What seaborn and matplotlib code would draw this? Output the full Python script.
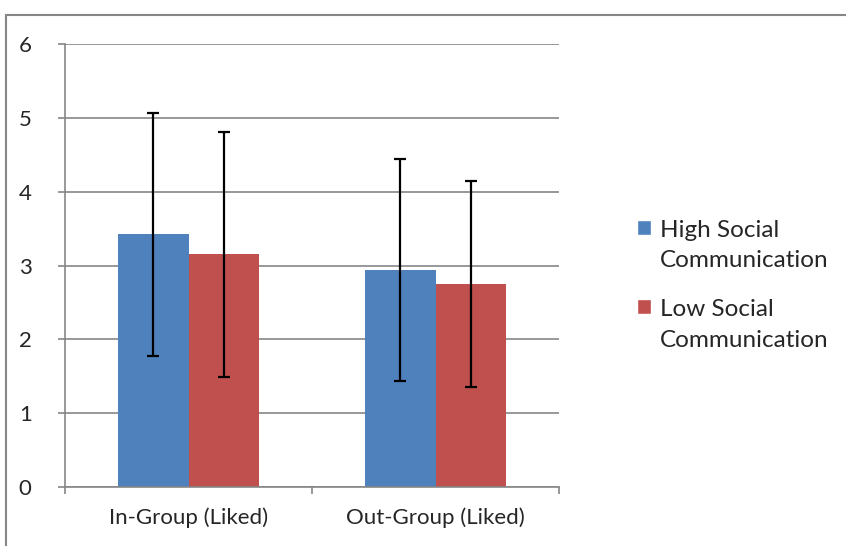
import pandas as pd
import seaborn as sns
import matplotlib.pyplot as plt
from matplotlib.patches import Rectangle, Patch
from matplotlib.legend_handler import HandlerPatch

categories = ['In-Group (Liked)', 'Out-Group (Liked)']
groups = ['High Social\nCommunication', 'Low Social\nCommunication']
high_means = [3.42, 2.94]
low_means = [3.15, 2.75]
high_err = [1.64, 1.50]
low_err = [1.66, 1.39]
colors = ['#4F81BD', '#C0504D']

df = pd.DataFrame({
    'category': categories * 2,
    'group': [groups[0]] * 2 + [groups[1]] * 2,
    'mean': high_means + low_means,
    'err': high_err + low_err,
})

sns.set_style('white')
plt.rcParams['font.family'] = ['Lato', 'DejaVu Sans']

fig = plt.figure(figsize=(8.46, 5.46), dpi=100)
ax = fig.add_axes([65 / 846, 59 / 546, 494 / 846, 443 / 546])

sns.barplot(data=df, x='category', y='mean', hue='group', palette=colors,
            width=0.57, gap=0, errorbar=None, ax=ax, legend=False,
            linewidth=0, saturation=1)

# error bars at the bar centres
for cont, errs in zip(ax.containers, [high_err, low_err]):
    xs = [b.get_x() + b.get_width() / 2 for b in cont]
    ys = [b.get_height() for b in cont]
    ax.errorbar(xs, ys, yerr=errs, fmt='none', ecolor='black',
                elinewidth=1.6, capsize=4, capthick=1.6, zorder=5)

ax.set_ylim(0, 6)
ax.set_xlim(-0.5, 1.5)
ax.set_yticks(range(7))
ax.set_xticks([-0.5, 0.5, 1.5], minor=False)
ax.set_xticklabels([])
ax.set_xticks([0, 1], minor=True)
ax.set_xticklabels(categories, minor=True)
ax.tick_params(axis='x', which='minor', length=0, pad=15, labelsize=16)
ax.tick_params(axis='x', which='major', length=5, width=1.2, color='#868686', direction='out', bottom=True)
ax.tick_params(axis='y', length=5, width=1.2, color='#868686', direction='out', pad=19, labelsize=16, left=True)
ax.yaxis.grid(True, color='#868686', linewidth=1.2)
ax.set_axisbelow(True)
ax.set_xlabel('')
ax.set_ylabel('')
for s in ['top', 'right']:
    ax.spines[s].set_visible(False)
for s in ['left', 'bottom']:
    ax.spines[s].set_color('#868686')
    ax.spines[s].set_linewidth(1.2)


# legend square next to the first line of each label
def top_square(legend, orig_handle, xdescent, ydescent, width, height, fontsize):
    return Rectangle((-xdescent, -ydescent + 13), width, height)


handles = [Patch(facecolor=c, label=g) for c, g in zip(colors, groups)]
leg = fig.legend(handles=handles, loc='upper left', bbox_to_anchor=(615 / 846, 1 - 198 / 546),
                 frameon=False, fontsize=17.5, handlelength=0.6, handleheight=0.6,
                 handletextpad=0.35, labelspacing=1.15,
                 handler_map={Patch: HandlerPatch(patch_func=top_square)})
for t in leg.get_texts():
    t.set_linespacing(1.55)

# outer chart border
fig.add_artist(Rectangle((6 / 846, -0.1), 1.2, 1.1 - 15 / 546, transform=fig.transFigure,
                         fill=False, edgecolor='#868686', linewidth=1.5))

fig.savefig('out.png', dpi=100)
